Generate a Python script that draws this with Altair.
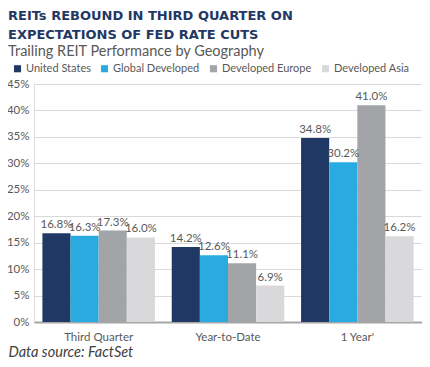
import altair as alt
import pandas as pd

periods = ["Third Quarter", "Year-to-Date", "1 Year'"]
geographies = ["United States", "Global Developed", "Developed Europe", "Developed Asia"]
us = [16.8, 14.2, 34.8]
glob = [16.3, 12.6, 30.2]
europe = [17.3, 11.1, 41.0]
asia = [16.0, 6.9, 16.2]
colors = ["#1f3864", "#29abe2", "#a3a4a7", "#d9d9db"]
y_ticks = [0, 5, 10, 15, 20, 25, 30, 35, 40, 45]

rows = []
for series, name in zip([us, glob, europe, asia], geographies):
    for p, v in zip(periods, series):
        rows.append({"Period": p, "Geography": name, "Value": v, "Label": f"{v:.1f}%"})
df = pd.DataFrame(rows)

FONT = "Lato"
GRAY = "#595959"

x = alt.X("Period:N", sort=periods,
          scale=alt.Scale(paddingInner=0.13, paddingOuter=0.065),
          axis=alt.Axis(title="Data source: FactSet", labelAngle=0, labelFont=FONT,
                        labelFontSize=11.5, labelColor=GRAY, labelPadding=9,
                        ticks=False, domainColor="#a6a6a6", domainWidth=2,
                        titleFont=FONT, titleFontStyle="italic", titleFontWeight="normal",
                        titleFontSize=14.5, titleColor="#404040", titleAnchor="start",
                        titleAlign="left", titleX=-26, titleY=34,
                        titleBaseline="alphabetic"))
xo = alt.XOffset("Geography:N", sort=geographies,
                 scale=alt.Scale(paddingInner=0, paddingOuter=0))
y = alt.Y("Value:Q", scale=alt.Scale(domain=[0, 45], nice=False),
          axis=alt.Axis(title=None, values=y_ticks, labelExpr="datum.value + '%'",
                        labelFont=FONT, labelFontSize=11.5, labelColor=GRAY,
                        labelPadding=5, ticks=False, domain=False, labelOverlap=False,
                        gridColor="#d9d9d9", gridWidth=1))

base = alt.Chart(df).encode(x=x, xOffset=xo, y=y)

bars = base.mark_bar().encode(
    color=alt.Color("Geography:N", sort=geographies,
                    scale=alt.Scale(domain=geographies, range=colors),
                    legend=alt.Legend(title=None, orient="none", direction="horizontal",
                                      legendX=-22, legendY=-21, symbolType="square",
                                      symbolSize=50, symbolStrokeWidth=0,
                                      labelFont=FONT, labelFontSize=11,
                                      labelColor=GRAY, labelOffset=3,
                                      columnPadding=8, padding=0)),
)

labels = base.mark_text(baseline="bottom", dy=-3, font=FONT, fontSize=11.5,
                        color=GRAY).encode(
    text="Label:N",
)

chart = alt.layer(bars, labels).properties(
    width=388, height=238,
    title=alt.TitleParams(
        text=["REITs REBOUND IN THIRD QUARTER ON", "EXPECTATIONS OF FED RATE CUTS"],
        subtitle="Trailing REIT Performance by Geography",
        anchor="start", frame="group", dx=-26,
        font="DejaVu Sans", fontSize=13, fontWeight="bold", color="#1f3864",
        lineHeight=19,
        subtitleFont=FONT, subtitleFontSize=14.5, subtitleColor=GRAY,
        subtitlePadding=3, offset=5,
    ),
    padding={"left": 26, "top": 76, "right": 0, "bottom": 37},
    autosize=alt.AutoSizeParams(type="none"),
).configure_view(stroke=None).configure(background="white")

chart.save("out.html", embed_options={"renderer": "svg", "actions": False})
